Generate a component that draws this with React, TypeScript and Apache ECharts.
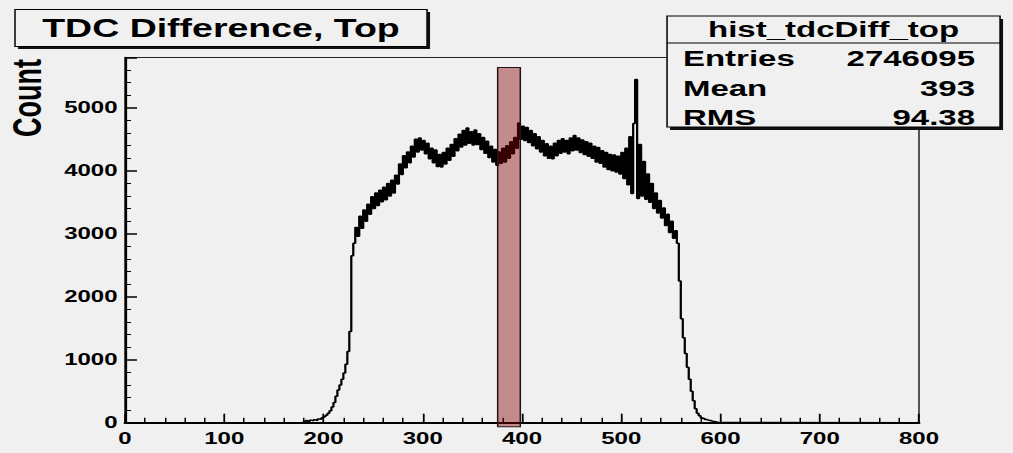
import React, { useEffect, useRef } from "react";
import * as echarts from "echarts";

// horizontal stretch of the whole picture (the reference is drawn wide)
const STRETCH = 1.5;
const CW = 675;
const CH = 453;
const FONT = "'Liberation Sans', Arial, Helvetica, sans-serif";

const titleText = "TDC Difference, Top";
const yAxisName = "Count";
const statsTitle = "hist_tdcDiff_top";
const statsLabels = ["Entries", "Mean", "RMS"];
const statsValues = ["2746095", "393", "94.38"];

const xMin = 0;
const xMax = 800;
const xInterval = 100;
const yMin = 0;
const yMax = 5800;
const yInterval = 1000;

// histogram: bins of width 2 starting at 180
const binStart = 180;
const binWidth = 2;
const counts = [
  20, 35, 15, 40, 30, 45, 35, 60, 55, 80,
  95, 120, 150, 190, 250, 320, 420, 520, 600, 690,
  790, 930, 1130, 1450, 2650, 2850, 3100, 2960, 3280, 3090,
  3380, 3200, 3470, 3310, 3590, 3400, 3650, 3450, 3690, 3510,
  3740, 3540, 3800, 3600, 3850, 3650, 3930, 3790, 4110, 3940,
  4240, 4050, 4300, 4130, 4390, 4220, 4500, 4300, 4520, 4330,
  4480, 4270, 4440, 4190, 4360, 4130, 4330, 4070, 4260, 4060,
  4290, 4110, 4360, 4170, 4420, 4230, 4510, 4320, 4580, 4380,
  4640, 4410, 4680, 4440, 4620, 4410, 4650, 4420, 4590, 4340,
  4530, 4280, 4470, 4210, 4390, 4140, 4340, 4090, 4300, 4120,
  4360, 4140, 4400, 4200, 4460, 4270, 4530, 4360, 4760, 4500,
  4710, 4480, 4690, 4450, 4640, 4400, 4590, 4350, 4540, 4300,
  4480, 4240, 4430, 4200, 4390, 4190, 4440, 4240, 4480, 4280,
  4510, 4300, 4480, 4270, 4520, 4320, 4560, 4330, 4520, 4290,
  4490, 4260, 4460, 4230, 4440, 4200, 4390, 4140, 4370, 4120,
  4320, 4060, 4290, 4020, 4260, 4000, 4250, 3980, 4230, 3950,
  4290, 3880, 4360, 3780, 4540, 3640, 4750, 5450, 3560, 4420,
  3600, 4150, 3550, 3950, 3500, 3800, 3400, 3650, 3330, 3530,
  3250, 3410, 3130, 3310, 3020, 3200, 2930, 3050, 2850, 2250,
  1650, 1350, 1100, 880, 690, 500, 350, 220, 150, 110,
  80, 65, 50, 40, 35, 25, 20, 12, 8, 5,
];

// highlighted band [xFrom, xTo, top]
const bandRange = [375.5, 398.3, 5640];

export default function App() {
  const ref = useRef<HTMLDivElement>(null);

  useEffect(() => {
    if (!ref.current) return;
    const chart = echarts.init(ref.current, null, { renderer: "svg" });

    const histData: number[][] = [[xMin, 0], [binStart - binWidth, 0]];
    counts.forEach((c, i) => histData.push([binStart + i * binWidth, c]));
    const binEnd = binStart + counts.length * binWidth;
    histData.push([binEnd, 0]);
    histData.push([xMax, 0]);

    const black = "#000";

    const option: any = {
      animation: false,
      backgroundColor: "#f0f0f0",
      grid: {
        left: 83.33,
        right: CW - 612.67,
        top: 57.5,
        bottom: 30.3,
        show: true,
        borderColor: "#222",
        borderWidth: 1,
        backgroundColor: "transparent",
      },
      xAxis: {
        type: "value",
        min: xMin,
        max: xMax,
        interval: xInterval,
        axisLine: { show: true, onZero: false, lineStyle: { color: black, width: 2 } },
        axisTick: { show: true, inside: true, length: 9, lineStyle: { color: black, width: 1.2 } },
        minorTick: { show: true, splitNumber: 5, length: 5, lineStyle: { color: black, width: 1 } },
        splitLine: { show: false },
        minorSplitLine: { show: false },
        axisLabel: {
          color: black,
          fontWeight: "bold",
          fontSize: 16,
          fontFamily: FONT,
          margin: 8,
        },
      },
      yAxis: {
        type: "value",
        min: yMin,
        max: yMax,
        interval: yInterval,
        axisLine: { show: true, onZero: false, lineStyle: { color: black, width: 1.5 } },
        axisTick: { show: true, inside: true, length: 8, lineStyle: { color: black, width: 1.5 } },
        minorTick: { show: true, splitNumber: 5, length: 4, lineStyle: { color: black, width: 1 } },
        splitLine: { show: false },
        minorSplitLine: { show: false },
        axisLabel: {
          color: black,
          fontWeight: "bold",
          fontSize: 16,
          fontFamily: FONT,
          margin: 5,
          formatter: (v: number) => (v % yInterval === 0 ? String(v) : ""),
        },
      },
      series: [
        {
          type: "line",
          step: "end",
          symbol: "none",
          data: histData,
          lineStyle: { color: black, width: 1.5 },
          z: 2,
        },
        {
          type: "custom",
          z: 5,
          data: [bandRange],
          encode: { x: [0, 1], y: 2 },
          renderItem: (params: any, api: any) => {
            const p0 = api.coord([api.value(0), api.value(2)]);
            const p1 = api.coord([api.value(1), 0]);
            return {
              type: "rect",
              shape: {
                x: p0[0],
                y: p0[1],
                width: p1[0] - p0[0],
                height: p1[1] - p0[1] + 4,
              },
              style: {
                fill: "rgba(134,0,0,0.42)",
                stroke: "#241414",
                lineWidth: 1,
              },
            };
          },
        },
      ],
      graphic: [
        // title box
        { type: "rect", z: 10, shape: { x: 12, y: 12, width: 274.7, height: 37 }, style: { fill: "#111" } },
        {
          type: "rect",
          z: 11,
          shape: { x: 10, y: 9.5, width: 274.7, height: 37 },
          style: { fill: "#f0f0f0", stroke: "#000", lineWidth: 1 },
        },
        {
          type: "text",
          z: 12,
          x: 147.3,
          y: 28.5,
          style: {
            text: titleText,
            fill: black,
            fontSize: 25,
            fontWeight: "bold",
            fontFamily: FONT,
            align: "center",
            verticalAlign: "middle",
          },
        },
        // y axis title
        {
          type: "text",
          z: 12,
          x: 18,
          y: 98,
          rotation: Math.PI / 2,
          style: {
            text: yAxisName,
            fill: black,
            fontSize: 27,
            fontWeight: "bold",
            fontFamily: FONT,
            align: "center",
            verticalAlign: "middle",
          },
        },
        // stats box
        { type: "rect", z: 10, shape: { x: 446.7, y: 19, width: 222, height: 111 }, style: { fill: "#111" } },
        {
          type: "rect",
          z: 11,
          shape: { x: 444.7, y: 16, width: 222, height: 111 },
          style: { fill: "#f0f0f0", stroke: "#000", lineWidth: 1 },
        },
        {
          type: "line",
          z: 12,
          shape: { x1: 444.7, y1: 43, x2: 666.7, y2: 43 },
          style: { stroke: "#000", lineWidth: 1 },
        },
        {
          type: "text",
          z: 12,
          x: 555.7,
          y: 30,
          style: {
            text: statsTitle,
            fill: black,
            fontSize: 22,
            fontWeight: "bold",
            fontFamily: FONT,
            align: "center",
            verticalAlign: "middle",
          },
        },
        ...statsLabels.map((lab, i) => ({
          type: "text",
          z: 12,
          x: 455.3,
          y: [59, 88.3, 117.3][i],
          style: {
            text: lab,
            fill: black,
            fontSize: 22,
            fontWeight: "bold",
            fontFamily: FONT,
            align: "left",
            verticalAlign: "middle",
          },
        })),
        ...statsValues.map((val, i) => ({
          type: "text",
          z: 12,
          x: 650,
          y: [59, 88.3, 117.3][i],
          style: {
            text: val,
            fill: black,
            fontSize: 22,
            fontWeight: "bold",
            fontFamily: FONT,
            align: "right",
            verticalAlign: "middle",
          },
        })),
      ],
    };

    chart.setOption(option);
    return () => {
      chart.dispose();
    };
  }, []);

  return (
    <div
      style={{
        position: "absolute",
        left: 0,
        top: 0,
        width: 1013,
        height: CH,
        overflow: "hidden",
        background: "#f0f0f0",
      }}
    >
      <div
        ref={ref}
        style={{
          width: CW,
          height: CH,
          transform: `scaleX(${STRETCH})`,
          transformOrigin: "0 0",
        }}
      />
    </div>
  );
}
